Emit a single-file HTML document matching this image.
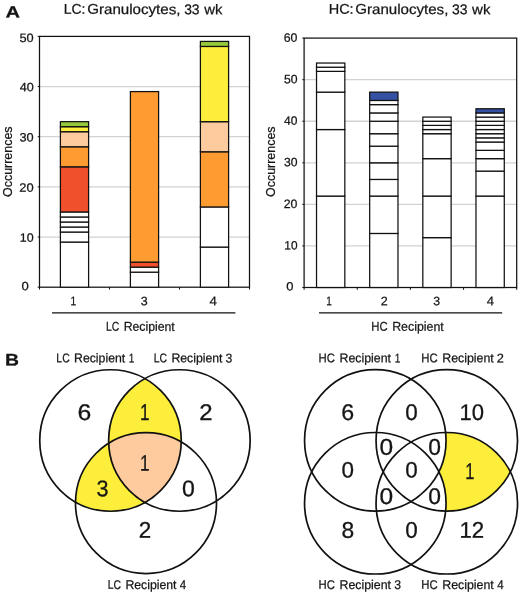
<!DOCTYPE html>
<html lang="en"><head><meta charset="utf-8"><title>Figure</title>
<style>html,body{margin:0;padding:0;background:#fff}svg{display:block;will-change:transform}text{font-family:'Liberation Sans',sans-serif;font-kerning:none;fill:#151515}</style>
</head><body>
<svg width="520" height="592" viewBox="0 0 520 592">
<rect width="520" height="592" fill="#fff"/>
<line x1="39.5" y1="237.04" x2="249.5" y2="237.04" stroke="#d2d2d2" stroke-width="1.3"/>
<line x1="39.5" y1="186.88" x2="249.5" y2="186.88" stroke="#d2d2d2" stroke-width="1.3"/>
<line x1="39.5" y1="136.72" x2="249.5" y2="136.72" stroke="#d2d2d2" stroke-width="1.3"/>
<line x1="39.5" y1="86.56" x2="249.5" y2="86.56" stroke="#d2d2d2" stroke-width="1.3"/>
<rect x="39.5" y="36.4" width="210.0" height="250.79999999999998" fill="none" stroke="#111" stroke-width="1.25"/>
<line x1="39.50" y1="287.2" x2="39.50" y2="289.5" stroke="#111" stroke-width="1"/>
<line x1="109.50" y1="287.2" x2="109.50" y2="289.5" stroke="#111" stroke-width="1"/>
<line x1="179.50" y1="287.2" x2="179.50" y2="289.5" stroke="#111" stroke-width="1"/>
<line x1="249.50" y1="287.2" x2="249.50" y2="289.5" stroke="#111" stroke-width="1"/>
<line x1="37.7" y1="287.20" x2="39.5" y2="287.20" stroke="#111" stroke-width="1"/>
<line x1="37.7" y1="237.04" x2="39.5" y2="237.04" stroke="#111" stroke-width="1"/>
<line x1="37.7" y1="186.88" x2="39.5" y2="186.88" stroke="#111" stroke-width="1"/>
<line x1="37.7" y1="136.72" x2="39.5" y2="136.72" stroke="#111" stroke-width="1"/>
<line x1="37.7" y1="86.56" x2="39.5" y2="86.56" stroke="#111" stroke-width="1"/>
<line x1="37.7" y1="36.40" x2="39.5" y2="36.40" stroke="#111" stroke-width="1"/>
<rect x="60.40" y="242.06" width="28.2" height="45.14" fill="#fff" stroke="#111" stroke-width="1.25"/>
<rect x="60.40" y="232.02" width="28.2" height="10.03" fill="#fff" stroke="#111" stroke-width="1.25"/>
<rect x="60.40" y="227.01" width="28.2" height="5.02" fill="#fff" stroke="#111" stroke-width="1.25"/>
<rect x="60.40" y="221.99" width="28.2" height="5.02" fill="#fff" stroke="#111" stroke-width="1.25"/>
<rect x="60.40" y="216.98" width="28.2" height="5.02" fill="#fff" stroke="#111" stroke-width="1.25"/>
<rect x="60.40" y="211.96" width="28.2" height="5.02" fill="#fff" stroke="#111" stroke-width="1.25"/>
<rect x="60.40" y="166.82" width="28.2" height="45.14" fill="#F0502B" stroke="#111" stroke-width="1.25"/>
<rect x="60.40" y="146.75" width="28.2" height="20.06" fill="#FE9B31" stroke="#111" stroke-width="1.25"/>
<rect x="60.40" y="131.70" width="28.2" height="15.05" fill="#FDCB9D" stroke="#111" stroke-width="1.25"/>
<rect x="60.40" y="126.69" width="28.2" height="5.02" fill="#FCEE3B" stroke="#111" stroke-width="1.25"/>
<rect x="60.40" y="121.67" width="28.2" height="5.02" fill="#97C93D" stroke="#111" stroke-width="1.25"/>
<rect x="130.40" y="272.15" width="28.2" height="15.05" fill="#fff" stroke="#111" stroke-width="1.25"/>
<rect x="130.40" y="267.14" width="28.2" height="5.02" fill="#fff" stroke="#111" stroke-width="1.25"/>
<rect x="130.40" y="262.12" width="28.2" height="5.02" fill="#F0502B" stroke="#111" stroke-width="1.25"/>
<rect x="130.40" y="91.58" width="28.2" height="170.54" fill="#FE9B31" stroke="#111" stroke-width="1.25"/>
<rect x="200.40" y="247.07" width="28.2" height="40.13" fill="#fff" stroke="#111" stroke-width="1.25"/>
<rect x="200.40" y="206.94" width="28.2" height="40.13" fill="#fff" stroke="#111" stroke-width="1.25"/>
<rect x="200.40" y="151.77" width="28.2" height="55.18" fill="#FE9B31" stroke="#111" stroke-width="1.25"/>
<rect x="200.40" y="121.67" width="28.2" height="30.10" fill="#FDCB9D" stroke="#111" stroke-width="1.25"/>
<rect x="200.40" y="46.43" width="28.2" height="75.24" fill="#FCEE3B" stroke="#111" stroke-width="1.25"/>
<rect x="200.40" y="41.42" width="28.2" height="5.02" fill="#97C93D" stroke="#111" stroke-width="1.25"/>
<text transform="translate(19.85 241.79) rotate(0.2)" font-size="12.17" textLength="13.83" lengthAdjust="spacingAndGlyphs" stroke="#151515" stroke-width="0.25">10</text>
<text transform="translate(19.35 191.63) rotate(0.2)" font-size="12.17" textLength="14.35" lengthAdjust="spacingAndGlyphs" stroke="#151515" stroke-width="0.25">20</text>
<text transform="translate(19.51 141.47) rotate(0.2)" font-size="12.17" textLength="14.18" lengthAdjust="spacingAndGlyphs" stroke="#151515" stroke-width="0.25">30</text>
<text transform="translate(19.71 91.31) rotate(0.2)" font-size="12.17" textLength="13.98" lengthAdjust="spacingAndGlyphs" stroke="#151515" stroke-width="0.25">40</text>
<text transform="translate(19.49 42.05) rotate(0.2)" font-size="12.17" textLength="14.21" lengthAdjust="spacingAndGlyphs" stroke="#151515" stroke-width="0.25">50</text>
<text transform="translate(21.49 290.25) rotate(0.2)" font-size="12.17" textLength="7.27" lengthAdjust="spacingAndGlyphs" stroke="#151515" stroke-width="0.25">0</text>
<line x1="304.1" y1="245.93" x2="516.7" y2="245.93" stroke="#d2d2d2" stroke-width="1.3"/>
<line x1="304.1" y1="204.37" x2="516.7" y2="204.37" stroke="#d2d2d2" stroke-width="1.3"/>
<line x1="304.1" y1="162.80" x2="516.7" y2="162.80" stroke="#d2d2d2" stroke-width="1.3"/>
<line x1="304.1" y1="121.23" x2="516.7" y2="121.23" stroke="#d2d2d2" stroke-width="1.3"/>
<line x1="304.1" y1="79.67" x2="516.7" y2="79.67" stroke="#d2d2d2" stroke-width="1.3"/>
<rect x="304.1" y="38.1" width="212.60000000000002" height="249.4" fill="none" stroke="#111" stroke-width="1.25"/>
<line x1="304.10" y1="287.5" x2="304.10" y2="289.8" stroke="#111" stroke-width="1"/>
<line x1="357.25" y1="287.5" x2="357.25" y2="289.8" stroke="#111" stroke-width="1"/>
<line x1="410.40" y1="287.5" x2="410.40" y2="289.8" stroke="#111" stroke-width="1"/>
<line x1="463.55" y1="287.5" x2="463.55" y2="289.8" stroke="#111" stroke-width="1"/>
<line x1="516.70" y1="287.5" x2="516.70" y2="289.8" stroke="#111" stroke-width="1"/>
<line x1="302.3" y1="287.50" x2="304.1" y2="287.50" stroke="#111" stroke-width="1"/>
<line x1="302.3" y1="245.93" x2="304.1" y2="245.93" stroke="#111" stroke-width="1"/>
<line x1="302.3" y1="204.37" x2="304.1" y2="204.37" stroke="#111" stroke-width="1"/>
<line x1="302.3" y1="162.80" x2="304.1" y2="162.80" stroke="#111" stroke-width="1"/>
<line x1="302.3" y1="121.23" x2="304.1" y2="121.23" stroke="#111" stroke-width="1"/>
<line x1="302.3" y1="79.67" x2="304.1" y2="79.67" stroke="#111" stroke-width="1"/>
<line x1="302.3" y1="38.10" x2="304.1" y2="38.10" stroke="#111" stroke-width="1"/>
<rect x="316.53" y="196.05" width="28.3" height="91.45" fill="#fff" stroke="#111" stroke-width="1.25"/>
<rect x="316.53" y="129.55" width="28.3" height="66.51" fill="#fff" stroke="#111" stroke-width="1.25"/>
<rect x="316.53" y="92.14" width="28.3" height="37.41" fill="#fff" stroke="#111" stroke-width="1.25"/>
<rect x="316.53" y="71.35" width="28.3" height="20.78" fill="#fff" stroke="#111" stroke-width="1.25"/>
<rect x="316.53" y="67.20" width="28.3" height="4.16" fill="#fff" stroke="#111" stroke-width="1.25"/>
<rect x="316.53" y="63.04" width="28.3" height="4.16" fill="#fff" stroke="#111" stroke-width="1.25"/>
<rect x="369.68" y="233.46" width="28.3" height="54.04" fill="#fff" stroke="#111" stroke-width="1.25"/>
<rect x="369.68" y="196.05" width="28.3" height="37.41" fill="#fff" stroke="#111" stroke-width="1.25"/>
<rect x="369.68" y="179.43" width="28.3" height="16.63" fill="#fff" stroke="#111" stroke-width="1.25"/>
<rect x="369.68" y="162.80" width="28.3" height="16.63" fill="#fff" stroke="#111" stroke-width="1.25"/>
<rect x="369.68" y="146.17" width="28.3" height="16.63" fill="#fff" stroke="#111" stroke-width="1.25"/>
<rect x="369.68" y="133.70" width="28.3" height="12.47" fill="#fff" stroke="#111" stroke-width="1.25"/>
<rect x="369.68" y="121.23" width="28.3" height="12.47" fill="#fff" stroke="#111" stroke-width="1.25"/>
<rect x="369.68" y="112.92" width="28.3" height="8.31" fill="#fff" stroke="#111" stroke-width="1.25"/>
<rect x="369.68" y="104.61" width="28.3" height="8.31" fill="#fff" stroke="#111" stroke-width="1.25"/>
<rect x="369.68" y="100.45" width="28.3" height="4.16" fill="#fff" stroke="#111" stroke-width="1.25"/>
<rect x="369.68" y="92.14" width="28.3" height="8.31" fill="#3451A3" stroke="#111" stroke-width="1.25"/>
<rect x="422.83" y="237.62" width="28.3" height="49.88" fill="#fff" stroke="#111" stroke-width="1.25"/>
<rect x="422.83" y="196.05" width="28.3" height="41.57" fill="#fff" stroke="#111" stroke-width="1.25"/>
<rect x="422.83" y="158.64" width="28.3" height="37.41" fill="#fff" stroke="#111" stroke-width="1.25"/>
<rect x="422.83" y="133.70" width="28.3" height="24.94" fill="#fff" stroke="#111" stroke-width="1.25"/>
<rect x="422.83" y="129.55" width="28.3" height="4.16" fill="#fff" stroke="#111" stroke-width="1.25"/>
<rect x="422.83" y="125.39" width="28.3" height="4.16" fill="#fff" stroke="#111" stroke-width="1.25"/>
<rect x="422.83" y="121.23" width="28.3" height="4.16" fill="#fff" stroke="#111" stroke-width="1.25"/>
<rect x="422.83" y="117.08" width="28.3" height="4.16" fill="#fff" stroke="#111" stroke-width="1.25"/>
<rect x="475.98" y="196.05" width="28.3" height="91.45" fill="#fff" stroke="#111" stroke-width="1.25"/>
<rect x="475.98" y="171.11" width="28.3" height="24.94" fill="#fff" stroke="#111" stroke-width="1.25"/>
<rect x="475.98" y="158.64" width="28.3" height="12.47" fill="#fff" stroke="#111" stroke-width="1.25"/>
<rect x="475.98" y="150.33" width="28.3" height="8.31" fill="#fff" stroke="#111" stroke-width="1.25"/>
<rect x="475.98" y="142.02" width="28.3" height="8.31" fill="#fff" stroke="#111" stroke-width="1.25"/>
<rect x="475.98" y="137.86" width="28.3" height="4.16" fill="#fff" stroke="#111" stroke-width="1.25"/>
<rect x="475.98" y="133.70" width="28.3" height="4.16" fill="#fff" stroke="#111" stroke-width="1.25"/>
<rect x="475.98" y="129.55" width="28.3" height="4.16" fill="#fff" stroke="#111" stroke-width="1.25"/>
<rect x="475.98" y="125.39" width="28.3" height="4.16" fill="#fff" stroke="#111" stroke-width="1.25"/>
<rect x="475.98" y="121.23" width="28.3" height="4.16" fill="#fff" stroke="#111" stroke-width="1.25"/>
<rect x="475.98" y="117.08" width="28.3" height="4.16" fill="#fff" stroke="#111" stroke-width="1.25"/>
<rect x="475.98" y="112.92" width="28.3" height="4.16" fill="#fff" stroke="#111" stroke-width="1.25"/>
<rect x="475.98" y="108.76" width="28.3" height="4.16" fill="#3451A3" stroke="#111" stroke-width="1.25"/>
<text transform="translate(284.30 249.48) rotate(0.2)" font-size="12.17" textLength="13.16" lengthAdjust="spacingAndGlyphs" stroke="#151515" stroke-width="0.25">10</text>
<text transform="translate(283.78 207.92) rotate(0.2)" font-size="12.17" textLength="13.70" lengthAdjust="spacingAndGlyphs" stroke="#151515" stroke-width="0.25">20</text>
<text transform="translate(283.94 166.35) rotate(0.2)" font-size="12.17" textLength="13.54" lengthAdjust="spacingAndGlyphs" stroke="#151515" stroke-width="0.25">30</text>
<text transform="translate(284.12 124.78) rotate(0.2)" font-size="12.17" textLength="13.34" lengthAdjust="spacingAndGlyphs" stroke="#151515" stroke-width="0.25">40</text>
<text transform="translate(283.91 83.22) rotate(0.2)" font-size="12.17" textLength="13.56" lengthAdjust="spacingAndGlyphs" stroke="#151515" stroke-width="0.25">50</text>
<text transform="translate(283.77 41.65) rotate(0.2)" font-size="12.17" textLength="13.71" lengthAdjust="spacingAndGlyphs" stroke="#151515" stroke-width="0.25">60</text>
<text transform="translate(286.29 290.55) rotate(0.2)" font-size="12.17" textLength="7.21" lengthAdjust="spacingAndGlyphs" stroke="#151515" stroke-width="0.25">0</text>
<text transform="translate(5.50 17.50) rotate(0.2)" font-size="16.28" textLength="14.53" lengthAdjust="spacingAndGlyphs" font-weight="bold" stroke="#151515" stroke-width="0.25">A</text>
<text transform="translate(4.91 365.50) rotate(0.2)" font-size="16.86" textLength="13.97" lengthAdjust="spacingAndGlyphs" font-weight="bold" stroke="#151515" stroke-width="0.25">B</text>
<text transform="rotate(0.2 143.6 14.1)" font-size="14.17" stroke="#151515" stroke-width="0.25"><tspan x="63.66" y="14.05" textLength="21.72" lengthAdjust="spacingAndGlyphs">LC:</tspan> <tspan x="87.24" y="14.05" textLength="93.22" lengthAdjust="spacingAndGlyphs">Granulocytes,</tspan> <tspan x="184.17" y="14.05" textLength="15.44" lengthAdjust="spacingAndGlyphs">33</tspan> <tspan x="204.22" y="14.05" textLength="18.16" lengthAdjust="spacingAndGlyphs">wk</tspan></text>
<text transform="rotate(0.2 410.1 14.1)" font-size="14.17" stroke="#151515" stroke-width="0.25"><tspan x="328.71" y="14.05" textLength="24.91" lengthAdjust="spacingAndGlyphs">HC:</tspan> <tspan x="355.34" y="14.05" textLength="93.01" lengthAdjust="spacingAndGlyphs">Granulocytes,</tspan> <tspan x="452.07" y="14.05" textLength="15.44" lengthAdjust="spacingAndGlyphs">33</tspan> <tspan x="472.12" y="14.05" textLength="18.26" lengthAdjust="spacingAndGlyphs">wk</tspan></text>
<text transform="translate(12.30 196.99) rotate(-90)" font-size="13.18" textLength="70.54" lengthAdjust="spacingAndGlyphs" stroke="#151515" stroke-width="0.25">Occurrences</text>
<text transform="translate(275.40 196.99) rotate(-90)" font-size="13.32" textLength="70.54" lengthAdjust="spacingAndGlyphs" stroke="#151515" stroke-width="0.25">Occurrences</text>
<text transform="translate(70.42 305.20) rotate(0.2)" font-size="12.50" textLength="5.68" lengthAdjust="spacingAndGlyphs" stroke="#151515" stroke-width="0.25">1</text>
<text transform="translate(140.83 305.20) rotate(0.2)" font-size="12.32" textLength="6.92" lengthAdjust="spacingAndGlyphs" stroke="#151515" stroke-width="0.25">3</text>
<text transform="translate(209.59 305.20) rotate(0.2)" font-size="12.50" textLength="7.39" lengthAdjust="spacingAndGlyphs" stroke="#151515" stroke-width="0.25">4</text>
<text transform="translate(326.14 305.20) rotate(0.2)" font-size="12.50" textLength="5.55" lengthAdjust="spacingAndGlyphs" stroke="#151515" stroke-width="0.25">1</text>
<text transform="translate(380.87 305.20) rotate(0.2)" font-size="12.32" textLength="6.96" lengthAdjust="spacingAndGlyphs" stroke="#151515" stroke-width="0.25">2</text>
<text transform="translate(433.23 305.20) rotate(0.2)" font-size="12.32" textLength="6.80" lengthAdjust="spacingAndGlyphs" stroke="#151515" stroke-width="0.25">3</text>
<text transform="translate(486.70 305.20) rotate(0.2)" font-size="12.50" textLength="7.28" lengthAdjust="spacingAndGlyphs" stroke="#151515" stroke-width="0.25">4</text>
<line x1="52" y1="312.8" x2="235.4" y2="312.8" stroke="#111" stroke-width="1.3"/>
<line x1="319" y1="312.8" x2="502.2" y2="312.8" stroke="#111" stroke-width="1.3"/>
<text transform="rotate(0.2 140.8 330.8)" font-size="12.79" stroke="#151515" stroke-width="0.25"><tspan x="105.94" y="330.80" textLength="13.35" lengthAdjust="spacingAndGlyphs">LC</tspan> <tspan x="123.69" y="330.80" textLength="51.10" lengthAdjust="spacingAndGlyphs">Recipient</tspan></text>
<text transform="rotate(0.2 407.9 330.8)" font-size="12.79" stroke="#151515" stroke-width="0.25"><tspan x="371.27" y="330.80" textLength="16.36" lengthAdjust="spacingAndGlyphs">HC</tspan> <tspan x="392.19" y="330.80" textLength="51.50" lengthAdjust="spacingAndGlyphs">Recipient</tspan></text>
<defs>
<clipPath id="lc1"><circle cx="110.5" cy="440.5" r="70.75"/></clipPath>
<clipPath id="lc3"><circle cx="179.4" cy="440.5" r="70.75"/></clipPath>
</defs>
<g clip-path="url(#lc1)"><circle cx="179.4" cy="440.5" r="70.75" fill="#FCEE3B"/><circle cx="146" cy="503.1" r="70.5" fill="#FCEE3B"/></g>
<g clip-path="url(#lc1)"><g clip-path="url(#lc3)"><circle cx="146" cy="503.1" r="70.5" fill="#FDCB9D"/></g></g>
<circle cx="110.5" cy="440.5" r="70.75" fill="none" stroke="#111" stroke-width="1.7"/>
<circle cx="179.4" cy="440.5" r="70.75" fill="none" stroke="#111" stroke-width="1.7"/>
<circle cx="146" cy="503.1" r="70.5" fill="none" stroke="#111" stroke-width="1.7"/>
<text transform="translate(77.45 419.95) rotate(0.2)" font-size="22.63" textLength="13.74" lengthAdjust="spacingAndGlyphs" stroke="#151515" stroke-width="0.3">6</text>
<text transform="translate(140.09 419.95) rotate(0.2)" font-size="22.97" textLength="9.55" lengthAdjust="spacingAndGlyphs" stroke="#151515" stroke-width="0.3">1</text>
<text transform="translate(199.20 419.95) rotate(0.2)" font-size="22.63" textLength="13.31" lengthAdjust="spacingAndGlyphs" stroke="#151515" stroke-width="0.3">2</text>
<text transform="translate(140.09 470.75) rotate(0.2)" font-size="22.67" textLength="9.55" lengthAdjust="spacingAndGlyphs" stroke="#151515" stroke-width="0.3">1</text>
<text transform="translate(96.58 496.15) rotate(0.2)" font-size="22.77" textLength="11.96" lengthAdjust="spacingAndGlyphs" stroke="#151515" stroke-width="0.3">3</text>
<text transform="translate(182.00 496.15) rotate(0.2)" font-size="22.77" textLength="12.80" lengthAdjust="spacingAndGlyphs" stroke="#151515" stroke-width="0.3">0</text>
<text transform="translate(138.77 537.75) rotate(0.2)" font-size="22.63" textLength="12.45" lengthAdjust="spacingAndGlyphs" stroke="#151515" stroke-width="0.3">2</text>
<text transform="rotate(0.2 95.6 362.3)" font-size="12.65" stroke="#151515" stroke-width="0.25"><tspan x="56.34" y="362.30" textLength="13.35" lengthAdjust="spacingAndGlyphs">LC</tspan> <tspan x="74.09" y="362.30" textLength="51.10" lengthAdjust="spacingAndGlyphs">Recipient</tspan> <tspan x="128.84" y="362.30" textLength="5.55" lengthAdjust="spacingAndGlyphs">1</tspan></text>
<text transform="rotate(0.2 193.2 362.3)" font-size="12.65" stroke="#151515" stroke-width="0.25"><tspan x="153.64" y="362.30" textLength="13.35" lengthAdjust="spacingAndGlyphs">LC</tspan> <tspan x="171.39" y="362.30" textLength="51.10" lengthAdjust="spacingAndGlyphs">Recipient</tspan> <tspan x="225.53" y="362.30" textLength="6.80" lengthAdjust="spacingAndGlyphs">3</tspan></text>
<text transform="rotate(0.2 147.2 589.0)" font-size="12.65" stroke="#151515" stroke-width="0.25"><tspan x="107.64" y="589.00" textLength="13.35" lengthAdjust="spacingAndGlyphs">LC</tspan> <tspan x="125.39" y="589.00" textLength="51.10" lengthAdjust="spacingAndGlyphs">Recipient</tspan> <tspan x="179.74" y="589.00" textLength="6.40" lengthAdjust="spacingAndGlyphs">4</tspan></text>
<defs>
<clipPath id="hc2"><circle cx="446.8" cy="440.4" r="70.75"/></clipPath>
</defs>
<g clip-path="url(#hc2)"><circle cx="446.8" cy="503.25" r="70.75" fill="#FCEE3B"/><circle cx="375.3" cy="440.4" r="70.75" fill="#fff"/><circle cx="375.3" cy="503.25" r="70.75" fill="#fff"/></g>
<circle cx="375.3" cy="440.4" r="70.75" fill="none" stroke="#111" stroke-width="1.7"/>
<circle cx="446.8" cy="440.4" r="70.75" fill="none" stroke="#111" stroke-width="1.7"/>
<circle cx="375.3" cy="503.25" r="70.75" fill="none" stroke="#111" stroke-width="1.7"/>
<circle cx="446.8" cy="503.25" r="70.75" fill="none" stroke="#111" stroke-width="1.7"/>
<text transform="translate(341.22 419.95) rotate(0.2)" font-size="22.63" textLength="12.90" lengthAdjust="spacingAndGlyphs" stroke="#151515" stroke-width="0.3">6</text>
<text transform="translate(405.33 419.95) rotate(0.2)" font-size="22.63" textLength="12.45" lengthAdjust="spacingAndGlyphs" stroke="#151515" stroke-width="0.3">0</text>
<text transform="translate(459.53 419.95) rotate(0.2)" font-size="22.63" textLength="24.43" lengthAdjust="spacingAndGlyphs" stroke="#151515" stroke-width="0.3">10</text>
<text transform="translate(379.44 454.85) rotate(0.2)" font-size="22.91" textLength="13.61" lengthAdjust="spacingAndGlyphs" stroke="#151515" stroke-width="0.3">0</text>
<text transform="translate(428.31 454.85) rotate(0.2)" font-size="22.91" textLength="12.68" lengthAdjust="spacingAndGlyphs" stroke="#151515" stroke-width="0.3">0</text>
<text transform="translate(341.53 477.55) rotate(0.2)" font-size="22.34" textLength="12.45" lengthAdjust="spacingAndGlyphs" stroke="#151515" stroke-width="0.3">0</text>
<text transform="translate(405.33 477.55) rotate(0.2)" font-size="22.34" textLength="12.45" lengthAdjust="spacingAndGlyphs" stroke="#151515" stroke-width="0.3">0</text>
<text transform="translate(465.35 478.95) rotate(0.2)" font-size="22.82" textLength="9.16" lengthAdjust="spacingAndGlyphs" stroke="#151515" stroke-width="0.3">1</text>
<text transform="translate(379.44 503.95) rotate(0.2)" font-size="22.63" textLength="13.61" lengthAdjust="spacingAndGlyphs" stroke="#151515" stroke-width="0.3">0</text>
<text transform="translate(428.31 503.95) rotate(0.2)" font-size="22.63" textLength="12.68" lengthAdjust="spacingAndGlyphs" stroke="#151515" stroke-width="0.3">0</text>
<text transform="translate(341.41 537.75) rotate(0.2)" font-size="22.63" textLength="12.68" lengthAdjust="spacingAndGlyphs" stroke="#151515" stroke-width="0.3">8</text>
<text transform="translate(405.33 537.75) rotate(0.2)" font-size="22.63" textLength="12.45" lengthAdjust="spacingAndGlyphs" stroke="#151515" stroke-width="0.3">0</text>
<text transform="translate(459.51 537.75) rotate(0.2)" font-size="22.63" textLength="24.71" lengthAdjust="spacingAndGlyphs" stroke="#151515" stroke-width="0.3">12</text>
<text transform="rotate(0.2 359.7 362.3)" font-size="12.65" stroke="#151515" stroke-width="0.25"><tspan x="318.57" y="362.30" textLength="16.36" lengthAdjust="spacingAndGlyphs">HC</tspan> <tspan x="339.49" y="362.30" textLength="51.50" lengthAdjust="spacingAndGlyphs">Recipient</tspan> <tspan x="394.84" y="362.30" textLength="5.55" lengthAdjust="spacingAndGlyphs">1</tspan></text>
<text transform="rotate(0.2 462.8 362.3)" font-size="12.65" stroke="#151515" stroke-width="0.25"><tspan x="421.37" y="362.30" textLength="16.36" lengthAdjust="spacingAndGlyphs">HC</tspan> <tspan x="442.29" y="362.30" textLength="51.50" lengthAdjust="spacingAndGlyphs">Recipient</tspan> <tspan x="496.86" y="362.30" textLength="7.08" lengthAdjust="spacingAndGlyphs">2</tspan></text>
<text transform="rotate(0.2 360.0 589.0)" font-size="12.65" stroke="#151515" stroke-width="0.25"><tspan x="318.57" y="589.00" textLength="16.36" lengthAdjust="spacingAndGlyphs">HC</tspan> <tspan x="339.49" y="589.00" textLength="51.50" lengthAdjust="spacingAndGlyphs">Recipient</tspan> <tspan x="394.23" y="589.00" textLength="6.80" lengthAdjust="spacingAndGlyphs">3</tspan></text>
<text transform="rotate(0.2 462.8 589.0)" font-size="12.65" stroke="#151515" stroke-width="0.25"><tspan x="421.37" y="589.00" textLength="16.36" lengthAdjust="spacingAndGlyphs">HC</tspan> <tspan x="442.29" y="589.00" textLength="51.50" lengthAdjust="spacingAndGlyphs">Recipient</tspan> <tspan x="497.24" y="589.00" textLength="6.40" lengthAdjust="spacingAndGlyphs">4</tspan></text>
</svg></body></html>
